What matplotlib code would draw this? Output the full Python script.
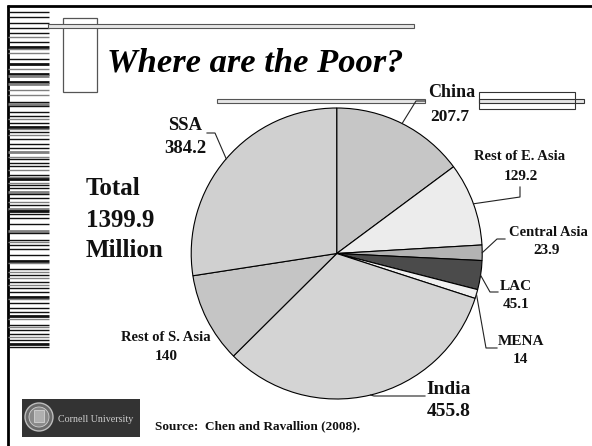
import matplotlib
matplotlib.use('Agg')
import matplotlib.pyplot as plt
from matplotlib.patches import Rectangle, Circle
import numpy as np

# ---------------- data ----------------
regions = ["China", "Rest of E. Asia", "Central Asia", "LAC", "MENA",
           "India", "Rest of S. Asia", "SSA"]
poor_millions = [207.7, 129.2, 23.9, 45.1, 14, 455.8, 140, 384.2]
value_labels = ["207.7", "129.2", "23.9", "45.1", "14", "455.8", "140", "384.2"]
slice_colors = ["#c6c6c6", "#ececec", "#b3b3b3", "#4b4b4b", "#f0f0f0",
                "#d4d4d4", "#c5c5c5", "#d0d0d0"]
total_lines = ["Total", "1399.9", "Million"]
title_text = "Where are the Poor?"
source_text = "Source:  Chen and Ravallion (2008)."
logo_text = "Cornell University"

# decorative barcode stripes on the left edge: (y, style)
barcode = [(12, 'k'), (17, 'k'), (23, 'k'), (28, 'k'), (33, 'k'), (37, 'g'), (42, 'k'),
           (47, 'K'), (49, 'g'), (53, 'g'), (59, 'k'), (64, 'K'), (69, 'g'), (74, 'K'),
           (76, 'G'), (82, 'K'), (84, 'G'), (90, 'g'), (95, 'g'), (102, 'k'), (104, 'G'),
           (106, 'k'), (112, 'k'), (116, 'k'), (119, 'g'), (123, 'k'), (127, 'K'), (129, 'g'),
           (132, 'k'), (135, 'g'), (139, 'k'), (144, 'k'), (148, 'k'), (152, 'G'), (157, 'g'),
           (159, 'k'), (163, 'k'), (166, 'k'), (170, 'g'), (175, 'k'), (177, 'g'), (179, 'K'),
           (183, 'g'), (185, 'k'), (188, 'k'), (192, 'G'), (194, 'k'), (198, 'k'), (202, 'g'),
           (205, 'k'), (209, 'G'), (211, 'K'), (214, 'k'), (218, 'k'), (224, 'k'), (231, 'G'),
           (233, 'k'), (240, 'k'), (242, 'g'), (245, 'k'), (249, 'k'), (255, 'k'), (261, 'K'),
           (263, 'g'), (269, 'k'), (272, 'g'), (275, 'k'), (278, 'g'), (282, 'k'), (285, 'g'),
           (288, 'k'), (292, 'k'), (297, 'K'), (299, 'g'), (303, 'k'), (308, 'k'), (312, 'k'),
           (316, 'K'), (319, 'g'), (325, 'k'), (327, 'g'), (330, 'k'), (334, 'k'), (337, 'g'),
           (340, 'k'), (344, 'K'), (347, 'k')]

# ---------------- layout ----------------
W, H = 592, 446
fig = plt.figure(figsize=(W / 100, H / 100), dpi=100)
ax = fig.add_axes([0, 0, 1, 1])

CX, CY, R = 336.7, 253.5, 145.5
wedges, _ = ax.pie(poor_millions, colors=slice_colors, startangle=-90,
                   counterclock=True, center=(CX, CY), radius=R,
                   wedgeprops=dict(edgecolor='black', linewidth=0.8),
                   frame=False)
ax.set_aspect('auto')
ax.set_xlim(0, W)
ax.set_ylim(H, 0)
ax.axis('off')

serif = ['Liberation Serif', 'DejaVu Serif']

# label layout: name pos, value pos, font sizes, leader path after edge point
label_layout = {
    "China":           dict(n=(452, 97), v=(450, 121), fs=13, vfs=12.5, path=[(416, 101), (425, 101)]),
    "Rest of E. Asia": dict(n=(520, 160), v=(521, 180), fs=10.5, vfs=11, path=[(520, 197), (520, 187)]),
    "Central Asia":    dict(n=(548, 236), v=(547, 254), fs=10.5, vfs=11, path=[(497, 239), (505, 239)]),
    "LAC":             dict(n=(516, 290), v=(516, 308), fs=11, vfs=11, path=[(490, 292), (498, 292)]),
    "MENA":            dict(n=(521, 345), v=(520, 363), fs=11, vfs=11, path=[(486, 348), (497, 348)]),
    "India":           dict(n=(449, 394), v=(449, 416), fs=14, vfs=14, path=[(374, 396), (425, 396)]),
    "Rest of S. Asia": dict(n=(166, 341), v=(166, 360), fs=10.5, vfs=11, path=None),
    "SSA":             dict(n=(185, 130), v=(185, 153), fs=13.5, vfs=13.5, path=[(215, 133), (207, 133)]),
}

for w, name, val in zip(wedges, regions, value_labels):
    lay = label_layout[name]
    if lay['path'] is not None:
        mid = np.deg2rad((w.theta1 + w.theta2) / 2.0)
        ex = CX + R * np.cos(mid)
        ey = CY + R * np.sin(mid)
        xs = [ex] + [p[0] for p in lay['path']]
        ys = [ey] + [p[1] for p in lay['path']]
        ax.plot(xs, ys, color='#222222', lw=0.8, zorder=3)
    ax.text(lay['n'][0], lay['n'][1], name, ha='center', va='baseline',
            fontsize=lay['fs'], fontweight='bold', family=serif, color='#111111', zorder=5)
    ax.text(lay['v'][0], lay['v'][1], val, ha='center', va='baseline',
            fontsize=lay['vfs'], fontweight='bold', family=serif, color='#111111', zorder=5)

# title
ax.text(107, 72, title_text, ha='left', va='baseline', fontsize=24.8,
        fontweight='bold', fontstyle='italic', family=serif, color='black')

# total
for txt, yb in zip(total_lines, [195, 227, 257]):
    ax.text(86, yb, txt, ha='left', va='baseline', fontsize=18,
            fontweight='bold', family=serif, color='#111111')

# source
ax.text(155, 429, source_text, ha='left', va='baseline', fontsize=9.5,
        fontweight='bold', family=serif, color='#111111')

# ---------------- decorations ----------------
# borders
ax.plot([7.5, 7.5], [5, H], color='black', lw=2.0, solid_capstyle='butt')
ax.plot([7, W], [5.8, 5.8], color='black', lw=2.0, solid_capstyle='butt')

# barcode
for y, st in barcode:
    col = '#111111' if st in 'kK' else '#808080'
    lw = 2.0 if st in 'KG' else 1.0
    ax.plot([8, 49], [y, y], color=col, lw=lw, solid_capstyle='butt')

# small vertical rectangle
ax.add_patch(Rectangle((63, 18), 34, 74, facecolor='white', edgecolor='#555555', lw=0.9, zorder=2))
# top horizontal double bar
ax.add_patch(Rectangle((48, 24), 366, 4, facecolor='#e6e6e6', edgecolor='#555555', lw=0.8, zorder=2.5))
# second double bar (left of China label and right part)
ax.add_patch(Rectangle((217, 99), 208, 4, facecolor='#e6e6e6', edgecolor='#555555', lw=0.8, zorder=2.5))
ax.add_patch(Rectangle((479, 99), 105, 4, facecolor='#e6e6e6', edgecolor='#333333', lw=0.8, zorder=2.5))
ax.add_patch(Rectangle((479, 92), 96, 17, facecolor='none', edgecolor='#333333', lw=0.8, zorder=2.6))

# Cornell logo
ax.add_patch(Rectangle((21.5, 399), 118.5, 38, facecolor='#333333', edgecolor='none', zorder=2))
ax.add_patch(Circle((39, 417), 14, facecolor='#6a6a6a', edgecolor='#bdbdbd', lw=1.0, zorder=3))
ax.add_patch(Circle((39, 417), 10, facecolor='#8a8a8a', edgecolor='#cfcfcf', lw=0.6, zorder=3))
ax.add_patch(Rectangle((34, 410), 10, 12, facecolor='#b0b0b0', edgecolor='#dddddd', lw=0.5, zorder=3.5))
ax.text(58.5, 422, logo_text, ha='left', va='baseline', fontsize=7.2,
        family=serif, color='#d0d0d0', zorder=4)

fig.savefig('out.png', dpi=100)
